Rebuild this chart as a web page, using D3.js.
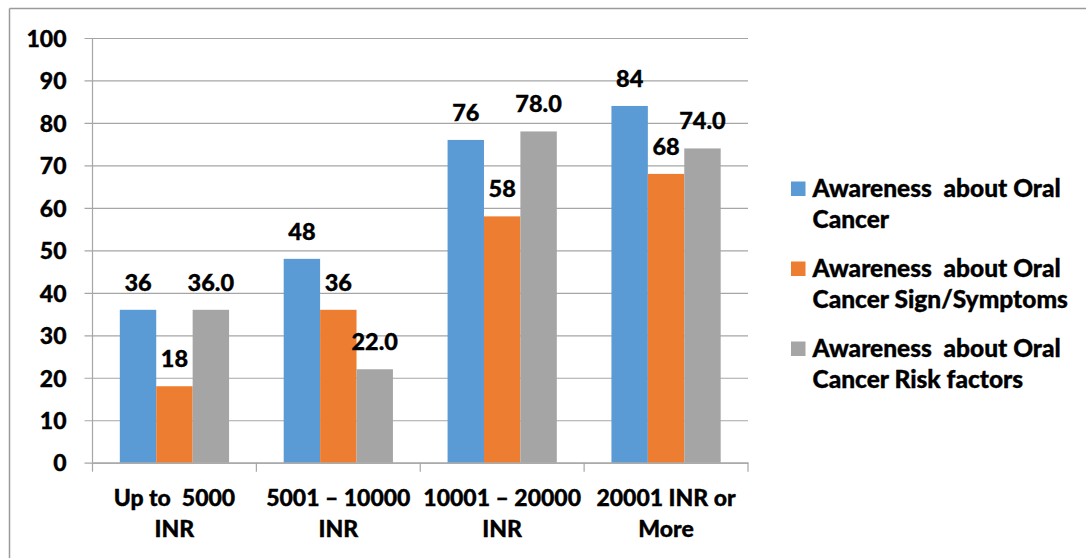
<!DOCTYPE html>
<html>
<head>
<meta charset="utf-8">
<script src="https://cdn.jsdelivr.net/npm/d3@7"></script>
<style>
  html, body { margin: 0; padding: 0; background: #fff; }
  svg { display: block; }
  text { font-family: Lato, "Liberation Sans", sans-serif; font-weight: 900; fill: #000;
         stroke: #000; stroke-width: 0.35px; }
</style>
</head>
<body>
<svg id="chart" width="1086" height="558"></svg>
<script>
// Income groups (two-line labels)
const categories = ["Up to  5000|INR", "5001 \u2013 10000|INR", "10001 \u2013 20000|INR", "20001 INR or|More"];

// Series names (two-line legend entries)
const seriesNames = [
  "Awareness  about Oral|Cancer",
  "Awareness  about Oral|Cancer Sign/Symptoms",
  "Awareness  about Oral|Cancer Risk factors"
];

// Percentage values per series, one per income group
const oralCancer   = [36, 48, 76, 84];
const signSymptoms = [18, 36, 58, 68];
const riskFactors  = [36.0, 22.0, 78.0, 74.0];

// Label decimals per series
const labelDecimals = [0, 0, 1];

const yTicks = [0, 10, 20, 30, 40, 50, 60, 70, 80, 90, 100];

const colors = ["#5B9BD5", "#ED7D31", "#A5A5A5"];
const series = [oralCancer, signSymptoms, riskFactors];

const svg = d3.select("#chart");

// Outer frame (top and left edges visible)
svg.append("line").attr("x1", 9.5).attr("y1", 8.5).attr("x2", 1086).attr("y2", 8.5)
  .attr("stroke", "#9a9a9a").attr("stroke-width", 1.5);
svg.append("line").attr("x1", 9.5).attr("y1", 8.5).attr("x2", 9.5).attr("y2", 558)
  .attr("stroke", "#9a9a9a").attr("stroke-width", 1.5);

const plot = { left: 92.5, right: 748, top: 38, bottom: 462.7 };

const x0 = d3.scaleBand().domain(categories).range([plot.left, plot.right]).paddingInner(0).paddingOuter(0);
const x1 = d3.scaleBand().domain(d3.range(series.length)).range([0, x0.bandwidth()])
  .paddingInner(0).paddingOuter(0.75);
const y = d3.scaleLinear().domain([0, 100]).range([plot.bottom, plot.top]);

const gridColor = "#a6a6a6";

// Horizontal gridlines with outward ticks
const yAxis = d3.axisLeft(y).tickValues(yTicks).tickSize(-(plot.right - plot.left)).tickPadding(26)
  .tickFormat(d3.format("d"));
const gy = svg.append("g").attr("transform", `translate(${plot.left},0)`).call(yAxis);
gy.select(".domain").remove();
gy.selectAll(".tick line").attr("stroke", gridColor).attr("stroke-width", 1.2).attr("x1", -8);
gy.selectAll(".tick text").attr("font-size", 23).attr("font-family", null)
  .attr("fill", null).attr("dy", "0.36em");

// Vertical axis line
svg.append("line").attr("x1", plot.left).attr("x2", plot.left).attr("y1", plot.top).attr("y2", plot.bottom)
  .attr("stroke", gridColor).attr("stroke-width", 1.2);

// Bars
const groups = svg.append("g").selectAll("g").data(categories).join("g")
  .attr("transform", d => `translate(${x0(d)},0)`);
groups.each(function(cat, ci) {
  const g = d3.select(this);
  series.forEach((vals, si) => {
    g.append("rect")
      .attr("x", x1(si))
      .attr("width", x1.bandwidth())
      .attr("y", y(vals[ci]))
      .attr("height", y(0) - y(vals[ci]))
      .attr("fill", colors[si]);
  });
  series.forEach((vals, si) => {
    g.append("text")
      .attr("x", x1(si) + x1.bandwidth() / 2)
      .attr("y", y(vals[ci]) - 19)
      .attr("text-anchor", "middle")
      .attr("font-size", 23.5)
      .text(vals[ci].toFixed(labelDecimals[si]));
  });
});

// Category axis along the baseline
const xAxis = d3.axisBottom(x0).tickSize(0).tickFormat("");
const gx = svg.append("g").attr("transform", `translate(0,${plot.bottom})`).call(xAxis);
gx.select(".domain").attr("stroke", gridColor).attr("stroke-width", 1.2);
const boundaries = categories.map(c => x0(c)).concat([plot.right]);
svg.append("g").selectAll("line").data(boundaries).join("line")
  .attr("x1", d => d).attr("x2", d => d)
  .attr("y1", plot.bottom).attr("y2", plot.bottom + 9)
  .attr("stroke", gridColor).attr("stroke-width", 1.2);

// Category labels
categories.forEach(c => {
  const lines = c.split("|");
  const t = svg.append("text")
    .attr("x", x0(c) + x0.bandwidth() / 2)
    .attr("y", 506)
    .attr("text-anchor", "middle")
    .attr("font-size", 23);
  lines.forEach((ln, i) => {
    t.append("tspan").attr("x", x0(c) + x0.bandwidth() / 2).attr("dy", i === 0 ? 0 : 31)
      .style("white-space", "pre").text(ln);
  });
});

// Legend
const legend = svg.append("g");
seriesNames.forEach((name, i) => {
  const yBase = 196.5 + i * 80;
  legend.append("rect").attr("x", 791).attr("y", yBase - 15).attr("width", 14.5).attr("height", 14.5)
    .attr("fill", colors[i]);
  const t = legend.append("text").attr("x", 812.5).attr("y", yBase).attr("font-size", 24.5);
  name.split("|").forEach((ln, j) => {
    t.append("tspan").attr("x", 812.5).attr("dy", j === 0 ? 0 : 31.5)
      .style("white-space", "pre").text(ln);
  });
});
</script>
</body>
</html>
